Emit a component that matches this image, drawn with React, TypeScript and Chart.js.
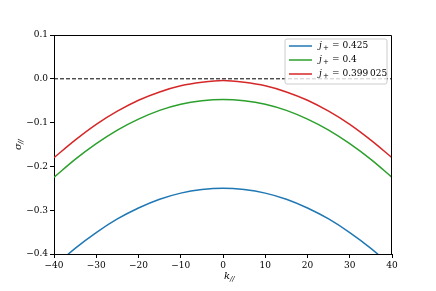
import React, { useEffect, useRef } from "react";
import { Chart, registerables } from "chart.js";

Chart.register(...registerables);

const kValues = [-40, -35, -30, -25, -20, -15, -10, -5, 0, 5, 10, 15, 20, 25, 30, 35, 40];
const blueValues = [-0.429, -0.387, -0.351, -0.320, -0.295, -0.275, -0.261, -0.253, -0.250, -0.253, -0.261, -0.275, -0.295, -0.320, -0.351, -0.387, -0.429];
const greenValues = [-0.225, -0.184, -0.148, -0.117, -0.092, -0.072, -0.058, -0.050, -0.047, -0.050, -0.058, -0.072, -0.092, -0.117, -0.148, -0.184, -0.225];
const redValues = [-0.180, -0.140, -0.104, -0.074, -0.049, -0.030, -0.016, -0.008, -0.004, -0.008, -0.016, -0.030, -0.049, -0.074, -0.104, -0.140, -0.180];
const zeroLine = [0, 0];
const zeroK = [-40, 40];
const legendLabels = ["0.425", "0.4", "0.399\u2009025"];
const colors = ["#1f77b4", "#2ca02c", "#d62728"];
const xTicks = [-40, -30, -20, -10, 0, 10, 20, 30, 40];
const yTicks = [-0.4, -0.3, -0.2, -0.1, 0.0, 0.1];

const FONT = "'DejaVu Serif', 'Liberation Serif', serif";

const framePlugin = {
  id: "frameAndLegend",
  afterDraw(chart: any) {
    const { ctx, chartArea } = chart;
    const { left, right, top, bottom } = chartArea;
    ctx.save();
    ctx.strokeStyle = "#000";
    ctx.lineWidth = 1;
    const t = Math.round(top) + 0.5;
    const r0 = Math.round(right) - 0.5;
    ctx.beginPath();
    ctx.moveTo(left, t);
    ctx.lineTo(r0, t);
    ctx.lineTo(r0, bottom);
    ctx.stroke();

    // legend
    const bx = 285, by = 39, bw = 102, bh = 45;
    ctx.fillStyle = "rgba(255,255,255,0.8)";
    ctx.strokeStyle = "#cccccc";
    ctx.beginPath();
    const r = 2;
    ctx.moveTo(bx + r, by);
    ctx.lineTo(bx + bw - r, by);
    ctx.quadraticCurveTo(bx + bw, by, bx + bw, by + r);
    ctx.lineTo(bx + bw, by + bh - r);
    ctx.quadraticCurveTo(bx + bw, by + bh, bx + bw - r, by + bh);
    ctx.lineTo(bx + r, by + bh);
    ctx.quadraticCurveTo(bx, by + bh, bx, by + bh - r);
    ctx.lineTo(bx, by + r);
    ctx.quadraticCurveTo(bx, by, bx + r, by);
    ctx.closePath();
    ctx.fill();
    ctx.stroke();

    legendLabels.forEach((lab, i) => {
      const y = 46 + i * 14;
      ctx.strokeStyle = colors[i];
      ctx.lineWidth = 1.5;
      ctx.beginPath();
      ctx.moveTo(289, y);
      ctx.lineTo(312, y);
      ctx.stroke();
      ctx.fillStyle = "#000";
      ctx.textBaseline = "middle";
      ctx.font = `italic 9px ${FONT}`;
      ctx.fillText("j", 319, y);
      ctx.font = `7px ${FONT}`;
      ctx.fillText("+", 323, y + 2);
      ctx.font = `9px ${FONT}`;
      ctx.fillText("= " + lab, 332, y);
    });

    // axis titles
    ctx.fillStyle = "#000";
    ctx.textBaseline = "middle";
    ctx.font = `italic 10px ${FONT}`;
    ctx.textAlign = "left";
    ctx.fillText("k", 224, 276);
    ctx.font = `italic 7px ${FONT}`;
    ctx.fillText("//", 230, 279);

    ctx.translate(18, 145);
    ctx.rotate(-Math.PI / 2);
    ctx.font = `italic 10px ${FONT}`;
    ctx.fillText("\u03c3", -5, 0);
    ctx.font = `italic 7px ${FONT}`;
    ctx.fillText("//", 1, 3);
    ctx.restore();
  },
};

export default function App() {
  const ref = useRef<HTMLCanvasElement>(null);
  useEffect(() => {
    if (!ref.current) return;
    const mk = (vals: number[]) => kValues.map((k, i) => ({ x: k, y: vals[i] }));
    const chart = new Chart(ref.current, {
      type: "line",
      data: {
        datasets: [
          { data: zeroK.map((k, i) => ({ x: k, y: zeroLine[i] })), borderColor: "#000", borderWidth: 1, borderDash: [4, 2], pointRadius: 0, tension: 0 },
          { data: mk(blueValues), borderColor: colors[0], borderWidth: 1.5, pointRadius: 0, cubicInterpolationMode: "monotone" },
          { data: mk(greenValues), borderColor: colors[1], borderWidth: 1.5, pointRadius: 0, cubicInterpolationMode: "monotone" },
          { data: mk(redValues), borderColor: colors[2], borderWidth: 1.5, pointRadius: 0, cubicInterpolationMode: "monotone" },
        ],
      },
      options: {
        animation: false,
        responsive: false,
        maintainAspectRatio: false,
        layout: { padding: { left: 0, right: 44, top: 35, bottom: 0 } },
        plugins: { legend: { display: false }, tooltip: { enabled: false } },
        scales: {
          x: {
            type: "linear",
            min: -40,
            max: 40,
            afterFit: (s: any) => { s.height = 37; },
            afterBuildTicks: (s: any) => { s.ticks = xTicks.map((v) => ({ value: v })); },
            grid: { drawOnChartArea: false, drawTicks: true, tickLength: 4, color: "#000" },
            border: { display: true, color: "#000" },
            ticks: {
              color: "#000",
              padding: 2,
              maxRotation: 0,
              font: { family: FONT, size: 9 },
              callback: (v: any) => String(v).replace("-", "\u2212"),
            },
          },
          y: {
            type: "linear",
            min: -0.4,
            max: 0.1,
            afterFit: (s: any) => { s.width = 54; },
            afterBuildTicks: (s: any) => { s.ticks = yTicks.map((v) => ({ value: v })); },
            grid: { drawOnChartArea: false, drawTicks: true, tickLength: 4, color: "#000" },
            border: { display: true, color: "#000" },
            ticks: {
              color: "#000",
              padding: 2,
              font: { family: FONT, size: 9 },
              callback: (v: any) => Number(v).toFixed(1).replace("-", "\u2212"),
            },
          },
        },
      },
      plugins: [framePlugin],
    });
    return () => chart.destroy();
  }, []);
  return (
    <div style={{ position: "fixed", left: 0, top: 0, width: 436, height: 291, background: "#fff" }}>
      <canvas ref={ref} width={436} height={291} style={{ width: 436, height: 291 }} />
    </div>
  );
}
